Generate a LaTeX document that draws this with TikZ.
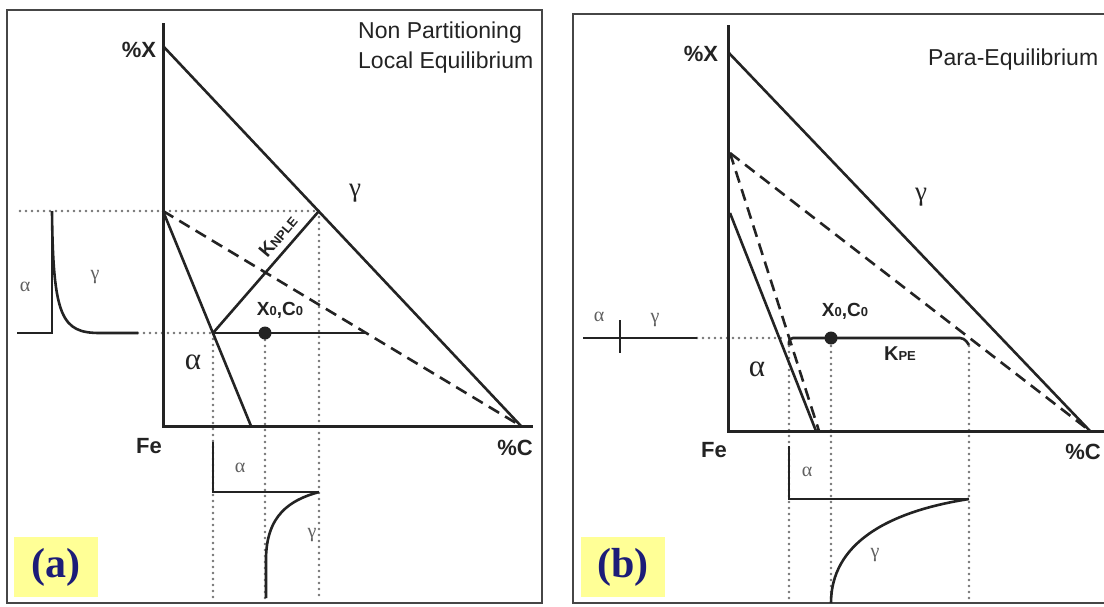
\documentclass[tikz,border=0pt]{standalone}
\usepackage{fontspec}
\setmainfont{Liberation Sans}
\newfontfamily\grk{Liberation Serif}
\usetikzlibrary{positioning}

\definecolor{ink}{RGB}{35,35,35}
\definecolor{dotgray}{RGB}{115,115,115}
\definecolor{tagyellow}{RGB}{255,255,150}
\definecolor{tagblue}{RGB}{28,28,120}

\tikzset{
  axis/.style={draw=ink, line width=3pt},
  curve/.style={draw=ink, line width=2.6pt},
  tie/.style={draw=ink, line width=2.6pt, dash pattern=on 12pt off 7pt},
  guide/.style={draw=dotgray, line width=2.6pt, line cap=round, dash pattern=on 0pt off 6pt},
  frame/.style={draw=gray!55!black, line width=2.2pt},
  lab/.style={text=ink, inner sep=0pt, font=\fontsize{22}{22}\selectfont\bfseries},
  title/.style={text=ink, inner sep=0pt, anchor=west, font=\fontsize{23}{27}\selectfont},
  phase/.style={text=ink, inner sep=0pt, font=\grk\fontsize{31}{31}\selectfont},
  small/.style={text=gray!75!black, inner sep=0pt, font=\grk\fontsize{20}{20}\selectfont},
  dot/.style={circle, fill=ink, inner sep=0pt, minimum size=13pt},
  tag/.style={fill=tagyellow, text=tagblue, inner sep=0pt, minimum width=84pt, minimum height=60pt,
    font=\grk\fontsize{42}{42}\selectfont\bfseries}
}
\newcommand{\sm}[1]{{\fontsize{13}{13}\selectfont #1}}

\begin{document}
\begin{tikzpicture}[x=1pt, y=-1pt]
\useasboundingbox (0,0) rectangle (1104,606);

% frames
\draw[frame] (7,10) rectangle (542,603);
\draw[frame] (1104,14) -- (573,14) -- (573,603) -- (1104,603);

% ---------- (a) non partitioning ----------
\coordinate (Oa) at (163,426);
\coordinate (Ya) at (163,23);
\coordinate (Ra) at (533,426);
\coordinate (Xa) at (163,46);
\coordinate (Ca) at (521,426);
\coordinate (Pa) at (163,211);
\coordinate (Qa) at (319,211);
\coordinate (Ta) at (213,333);
\coordinate (Ba) at (251,426);
\coordinate (Ea) at (366,333);
\coordinate (Ga) at (20,211);
\coordinate (Ha) at (138,333);

\foreach \p in {Ta, Qa}
  \draw[guide] (\p) -- (\p |- 0,600);
\draw[guide] (265,340) -- (265,600);
\draw[guide] (Ga) -- (Qa);
\draw[guide] (Ha) -- (Ta);

\draw[axis] (Ya) -- (Oa) -- (Ra);
\draw[curve] (Xa) -- (Ca);
\draw[curve] (Pa) -- (Ba);
\draw[tie] (Pa) -- (Ca);
\draw[curve] (Ta) -- (Qa);
\draw[curve] (Ta) -- (Ea);
\node[dot] (Da) at (265,333) {};

% profile across the interface
\draw[curve] (17,333) -- (52,333) -- (52,211);
\draw[curve] (52,211) .. controls (53,318) and (62,333) .. (100,333) -- (Ha);
\draw[curve] (213,442) -- (213,492) -- (319,492);
\draw[curve] (319,492) .. controls (290,500) and (266,515) .. (266,560) -- (266,598);

\node[lab] (pxa) at (139,50) {\%X};
\node[lab] (fea) at (149,446) {Fe};
\node[lab] (pca) at (515,448) {\%C};
\node[title] (tia) at (358,33) {Non Partitioning};
\node[title, below=8pt of tia.south west, anchor=north west] (tib) {Local Equilibrium};
\node[phase, font=\grk\fontsize{27}{27}\selectfont] (ga1) at (355,193) {γ};
\node[phase] (al1) at (193,362) {α};
\node[lab, font=\fontsize{19}{19}\selectfont\bfseries] (x0a) at (280,310) {X\sm{0},C\sm{0}};
\node[lab, rotate=50, font=\fontsize{19}{19}\selectfont\bfseries] (kna) at (278,236) {K\sm{NPLE}};
\node[small] (al2) at (25,287) {α};
\node[small] (ga2) at (95,277) {γ};
\node[small] (al3) at (240,468) {α};
\node[small] (ga3) at (312,535) {γ};
\node[tag] (taga) at (56,567) {(a)};

% ---------- (b) para-equilibrium ----------
\coordinate (Ob) at (728,431);
\coordinate (Yb) at (728,25);
\coordinate (Rb) at (1106,431);
\coordinate (Xb) at (728,52);
\coordinate (Cb) at (1090,431);
\coordinate (Pb) at (730,153);
\coordinate (Sb) at (730,213);
\coordinate (Bb) at (816,431);
\coordinate (Fb) at (819,431);
\coordinate (Kb) at (789,345);
\coordinate (Lb) at (969,345);
\coordinate (Hb) at (697,338);

\foreach \x in {789, 831, 969}
  \draw[guide] (\x,346) -- (\x,603);
\draw[guide] (Hb) -- (785,338);

\draw[axis] (Yb) -- (Ob) -- (Rb);
\draw[curve] (Xb) -- (Cb);
\draw[curve] (Sb) -- (Bb);
\draw[tie] (Pb) -- (Fb);
\draw[tie] (Pb) -- (Cb);
\draw[curve, rounded corners=4pt] (Kb) -- (789,338) -- (964,338) -- (Lb);
\node[dot] (Db) at (831,338) {};

% profile across the interface
\draw[curve] (583,338) -- (Hb);
\draw[curve] (620,320) -- (620,353);
\draw[curve] (789,446) -- (789,499) -- (969,499);
\draw[curve] (969,499) .. controls (885,512) and (831,545) .. (831,603);

\node[lab] (pxb) at (701,54) {\%X};
\node[lab] (feb) at (714,450) {Fe};
\node[lab] (pcb) at (1083,452) {\%C};
\node[title] (tic) at (928,60) {Para-Equilibrium};
\node[phase, font=\grk\fontsize{27}{27}\selectfont] (gb1) at (921,197) {γ};
\node[phase] (ab1) at (757,369) {α};
\node[lab, font=\fontsize{19}{19}\selectfont\bfseries] (x0b) at (845,311) {X\sm{0},C\sm{0}};
\node[lab, font=\fontsize{20}{20}\selectfont\bfseries] (kpb) at (900,354) {K\sm{PE}};
\node[small] (ab2) at (599,317) {α};
\node[small] (gb2) at (655,320) {γ};
\node[small] (ab3) at (807,472) {α};
\node[small] (gb3) at (875,555) {γ};
\node[tag] (tagb) at (623,567) {(b)};
\end{tikzpicture}
\end{document}
